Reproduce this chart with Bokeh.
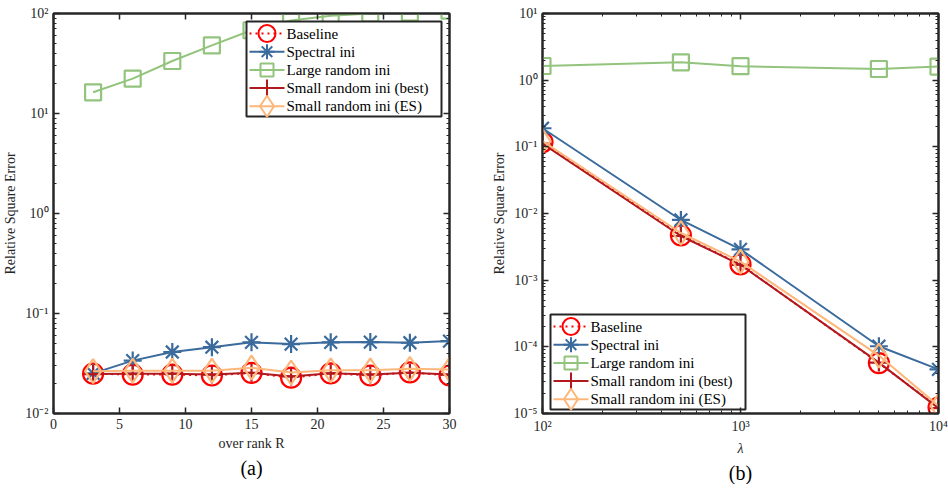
import math
from bokeh.plotting import figure
from bokeh.layouts import row
from bokeh.models import (FixedTicker, LinearAxis, CustomJSTickFormatter, Title, Range1d,
                          CustomLabelingPolicy)
from bokeh.core.properties import value
from bokeh.embed import file_html
from bokeh.resources import INLINE

# ---------------- data ----------------
rank = [3, 6, 9, 12, 15, 18, 21, 24, 27, 30]
a_baseline = [0.0250, 0.0245, 0.0245, 0.0240, 0.0255, 0.0228, 0.0252, 0.0240, 0.0258, 0.0240]
a_spectral = [0.0252, 0.0338, 0.0412, 0.0460, 0.0515, 0.0495, 0.0515, 0.0518, 0.0510, 0.0530]
a_large = [16.3, 22.3, 33.5, 48.0, 68.0, 85.0, 95.0, 100.0, 102.0, 107.0]
a_best = [0.0248, 0.0250, 0.0250, 0.0245, 0.0255, 0.0235, 0.0252, 0.0245, 0.0255, 0.0245]
a_es = [0.0265, 0.0268, 0.0268, 0.0268, 0.0287, 0.0257, 0.0270, 0.0270, 0.0280, 0.0275]

lam = [100, 500, 1000, 5000, 10000]
b_baseline = [0.118, 0.0047, 0.00172, 5.7e-5, 1.23e-5]
b_spectral = [0.19, 0.0080, 0.0029, 1.02e-4, 4.6e-5]
b_large = [1.63, 1.85, 1.62, 1.47, 1.60]
b_best = [0.112, 0.0046, 0.00170, 5.8e-5, 1.2e-5]
b_es = [0.122, 0.0051, 0.0019, 7.4e-5, 1.3e-5]

labels = ["Baseline", "Spectral ini", "Large random ini",
          "Small random ini (best)", "Small random ini (ES)"]
a_tick_x = [0, 5, 10, 15, 20, 25, 30]
a_decades = [-2, -1, 0, 1, 2]
b_decades_x = [2, 3, 4]
b_decades_y = [-5, -4, -3, -2, -1, 0, 1]

# ---------------- style ----------------
FONT = "Liberation Serif"
AX = "#262626"
colors = ["#FF0000", "#3A6B9C", "#93C47D", "#B2191E", "#FDB77A"]
markers = ["circle", "asterisk", "square", "cross", "diamond"]
msizes = [20, 18, 16, 18, 24]
lsizes = [17, 15, 13, 17, 21]
dashes = ["dotted", "solid", "solid", "solid", "solid"]
FW, FH = 396, 400

sup_js = """
const e = Math.round(Math.log10(tick));
const sup = {'-':'\u207b','0':'\u2070','1':'\u00b9','2':'\u00b2','3':'\u00b3',
             '4':'\u2074','5':'\u2075','6':'\u2076','7':'\u2077','8':'\u2078','9':'\u2079'};
return '10' + String(e).split('').map(c => sup[c]).join('');
"""
no_labels = "for (const i of Array.from(indices)) { indices.unset(i) }\nreturn indices"


def log_ticker(decades):
    majors = [10.0 ** e for e in decades]
    minors = [m * 10.0 ** e for e in decades[:-1] for m in range(2, 10)]
    return FixedTicker(ticks=majors, minor_ticks=minors)


def style_axis(ax, show_labels=True):
    ax.axis_line_color = AX
    ax.axis_line_width = 2
    ax.major_tick_in = 6
    ax.major_tick_out = 0
    ax.minor_tick_in = 3
    ax.minor_tick_out = 0
    ax.major_tick_line_color = AX
    ax.major_tick_line_width = 1.5
    ax.minor_tick_line_color = AX
    ax.minor_tick_line_width = 1
    ax.major_label_text_font = FONT
    ax.major_label_text_font_size = "14px"
    ax.major_label_text_color = AX
    ax.axis_label_text_font = FONT
    ax.axis_label_text_font_size = "14px"
    ax.axis_label_text_font_style = "normal"
    ax.axis_label_text_color = AX
    ax.axis_label_standoff = 4
    ax.major_label_standoff = 5
    if not show_labels:
        ax.major_label_policy = CustomLabelingPolicy(code=no_labels)
        ax.major_label_standoff = 0


def draw(p, x, series):
    for ys, c, m, s, d in zip(series, colors, markers, msizes, dashes):
        p.line(x, ys, line_color=c, line_width=2, line_dash=d)
        p.scatter(x, ys, marker=m, size=s, fill_color=None, line_color=c, line_width=2.2)


def to_data(px, py, xr, yr, xlog, ylog):
    """pixel offsets from the frame's top-left corner -> data coordinates"""
    fx, fy = px / FW, 1 - py / FH
    if xlog:
        x = 10 ** (math.log10(xr[0]) + fx * (math.log10(xr[1]) - math.log10(xr[0])))
    else:
        x = xr[0] + fx * (xr[1] - xr[0])
    if ylog:
        y = 10 ** (math.log10(yr[0]) + fy * (math.log10(yr[1]) - math.log10(yr[0])))
    else:
        y = yr[0] + fy * (yr[1] - yr[0])
    return x, y


def legend_box(p, left, top, xr, yr, xlog, ylog, width=195, height=95):
    x0, y0 = to_data(left, top, xr, yr, xlog, ylog)
    x1, y1 = to_data(left + width, top + height, xr, yr, xlog, ylog)
    p.quad(left=[x0], right=[x1], top=[y0], bottom=[y1], fill_color="white",
           line_color=AX, line_width=2)
    for i, (lab, c, m, s, d) in enumerate(zip(labels, colors, markers, lsizes, dashes)):
        yy = top + 12 + i * 18.2
        xa, ya = to_data(left + 3, yy, xr, yr, xlog, ylog)
        xb, _ = to_data(left + 38, yy, xr, yr, xlog, ylog)
        xm, _ = to_data(left + 20.5, yy, xr, yr, xlog, ylog)
        xt, _ = to_data(left + 40, yy, xr, yr, xlog, ylog)
        p.segment(x0=[xa], y0=[ya], x1=[xb], y1=[ya], line_color=c, line_width=2, line_dash=d)
        p.scatter([xm], [ya], marker=m, size=s, fill_color=None, line_color=c, line_width=2)
        p.text([xt], [ya], text=[lab], text_font=value(FONT), text_font_size="15px",
               text_baseline="middle", text_align="left", text_color="black")


def caption(p, text):
    p.add_layout(Title(text=text, align="center", text_font=FONT,
                       text_font_size="20px", text_font_style="normal",
                       text_color="black", standoff=2), "below")


def setup(p):
    p.grid.visible = False
    p.outline_line_color = AX
    p.outline_line_width = 2


# ---------------- panel (a) ----------------
xr_a, yr_a = (0, 30), (0.01, 100)
pa = figure(frame_width=FW, frame_height=FH, y_axis_type="log",
            x_range=Range1d(*xr_a), y_range=Range1d(*yr_a),
            output_backend="svg", toolbar_location=None,
            min_border_left=45, min_border_right=30, min_border_top=5,
            min_border_bottom=8)
setup(pa)
draw(pa, rank, [a_baseline, a_spectral, a_large, a_best, a_es])
pa.xaxis[0].ticker = FixedTicker(ticks=a_tick_x, minor_ticks=[])
pa.xaxis[0].axis_label = "over rank R"
pa.yaxis[0].ticker = log_ticker(a_decades)
pa.yaxis[0].formatter = CustomJSTickFormatter(code=sup_js)
pa.yaxis[0].axis_label = "Relative Square Error"
style_axis(pa.xaxis[0])
style_axis(pa.yaxis[0])
ta = LinearAxis(ticker=FixedTicker(ticks=a_tick_x, minor_ticks=[]))
ra = LinearAxis(ticker=log_ticker(a_decades))
style_axis(ta, False)
style_axis(ra, False)
pa.add_layout(ta, "above")
pa.add_layout(ra, "right")
legend_box(pa, FW - 203, 8, xr_a, yr_a, False, True)
caption(pa, "(a)")

# ---------------- panel (b) ----------------
xr_b, yr_b = (100, 10000), (1e-5, 10)
pb = figure(frame_width=FW, frame_height=FH, x_axis_type="log", y_axis_type="log",
            x_range=Range1d(*xr_b), y_range=Range1d(*yr_b),
            output_backend="svg", toolbar_location=None,
            min_border_left=63, min_border_right=6, min_border_top=1,
            min_border_bottom=8)
setup(pb)
draw(pb, lam, [b_baseline, b_spectral, b_large, b_best, b_es])
pb.xaxis[0].ticker = log_ticker(b_decades_x)
pb.xaxis[0].formatter = CustomJSTickFormatter(code=sup_js)
pb.xaxis[0].axis_label = "\u03bb"
pb.yaxis[0].ticker = log_ticker(b_decades_y)
pb.yaxis[0].formatter = CustomJSTickFormatter(code=sup_js)
pb.yaxis[0].axis_label = "Relative Square Error"
style_axis(pb.xaxis[0])
style_axis(pb.yaxis[0])
pb.xaxis[0].axis_label_text_font_style = "italic"
tb = LinearAxis(ticker=log_ticker(b_decades_x))
rb = LinearAxis(ticker=log_ticker(b_decades_y))
style_axis(tb, False)
style_axis(rb, False)
pb.add_layout(tb, "above")
pb.add_layout(rb, "right")
legend_box(pb, 8, FH - 4 - 95, xr_b, yr_b, True, True)
caption(pb, "(b)")

layout = row(pa, pb)
open("out.html", "w").write(file_html(layout, INLINE))
